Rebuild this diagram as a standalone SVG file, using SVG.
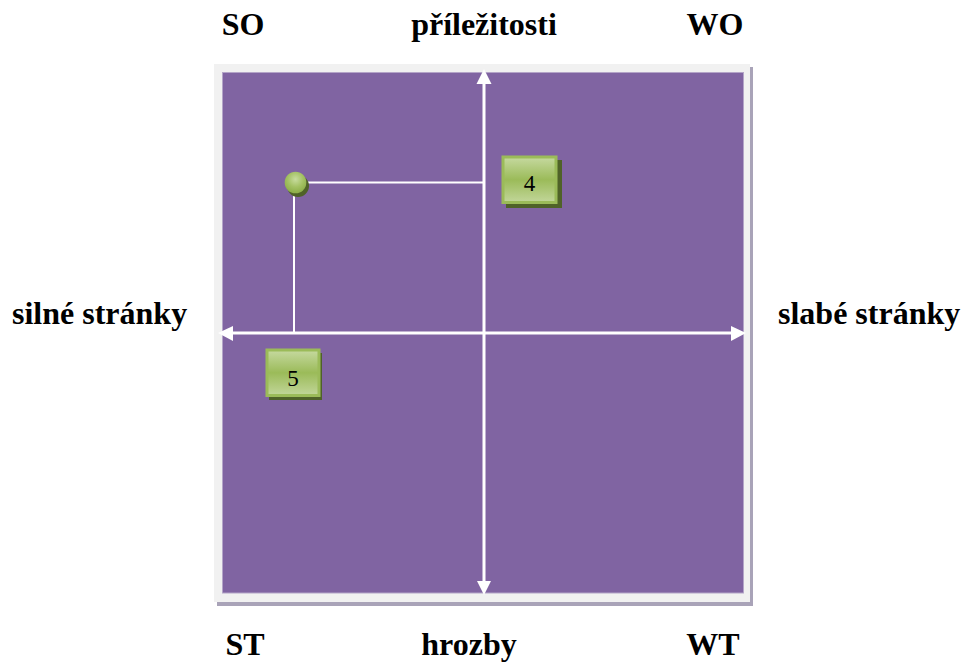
<svg xmlns="http://www.w3.org/2000/svg" width="965" height="664" viewBox="0 0 965 664">
<defs>
<style>
.lbl{font-family:"Liberation Serif","Times New Roman",serif;font-weight:bold;font-size:32px;fill:#000}
.num{font-family:"Liberation Serif","Times New Roman",serif;font-size:23px;fill:#000;text-anchor:middle}
.axis{stroke:#fff;stroke-width:3;fill:none}
.thin{stroke:#fff;stroke-width:2;fill:none}
.shadow{fill:#4f6228}
.box{fill:url(#gbox);stroke:#9bbb59;stroke-width:3}
</style>
<linearGradient id="gbox" x1="0" y1="0" x2="0" y2="1">
<stop offset="0" stop-color="#c6d9a0"/>
<stop offset="0.5" stop-color="#9bbb59"/>
<stop offset="1" stop-color="#c2d69a"/>
</linearGradient>
<radialGradient id="gball" cx="0.5" cy="0.35" r="0.6">
<stop offset="0" stop-color="#c8dc9f"/>
<stop offset="0.6" stop-color="#a3c163"/>
<stop offset="1" stop-color="#8fb04c"/>
</radialGradient>
</defs>
<g id="frame">
<rect x="217" y="67" width="536" height="539" fill="#a9a3b8"/>
<rect x="214" y="64" width="536" height="538" fill="#f1f1f1"/>
<rect x="222.5" y="72.5" width="521" height="520.5" fill="#8064a2" stroke="#b4a5c8" stroke-width="1"/>
</g>
<g id="connectors">
<line class="axis" x1="484" y1="82" x2="484" y2="584"/>
<polygon points="484,69 476.5,84 491.5,84" fill="#fff"/>
<polygon points="484,595 477,581 491,581" fill="#fff"/>
<line class="axis" x1="231" y1="333" x2="734" y2="333"/>
<polygon points="218,333 233,326 233,341" fill="#fff"/>
<polygon points="746,333 731,326 731,341" fill="#fff"/>
<line class="thin" x1="300" y1="182.5" x2="483" y2="182.5"/>
<line class="thin" x1="294" y1="190" x2="294" y2="333"/>
</g>
<g id="point">
<circle cx="298" cy="186" r="11" fill="#4f6228"/>
<circle cx="295.5" cy="182.5" r="10.8" fill="url(#gball)"/>
</g>
<g id="box4">
<rect class="shadow" x="506" y="160" width="56" height="48"/>
<rect class="box" x="503" y="157" width="53" height="45.5"/>
<text class="num" x="529.5" y="191">4</text>
</g>
<g id="box5">
<rect class="shadow" x="269" y="353" width="53" height="47"/>
<rect class="box" x="267" y="350" width="52" height="45.5"/>
<text class="num" x="293" y="386">5</text>
</g>
<g id="labels">
<text class="lbl" x="243" y="35" text-anchor="middle">SO</text>
<text class="lbl" x="484" y="35" text-anchor="middle">příležitosti</text>
<text class="lbl" x="715" y="35" text-anchor="middle">WO</text>
<text class="lbl" x="12" y="324">silné stránky</text>
<text class="lbl" x="778" y="324">slabé stránky</text>
<text class="lbl" x="245" y="655" text-anchor="middle">ST</text>
<text class="lbl" x="469" y="655" text-anchor="middle">hrozby</text>
<text class="lbl" x="713" y="655" text-anchor="middle">WT</text>
</g>
</svg>
